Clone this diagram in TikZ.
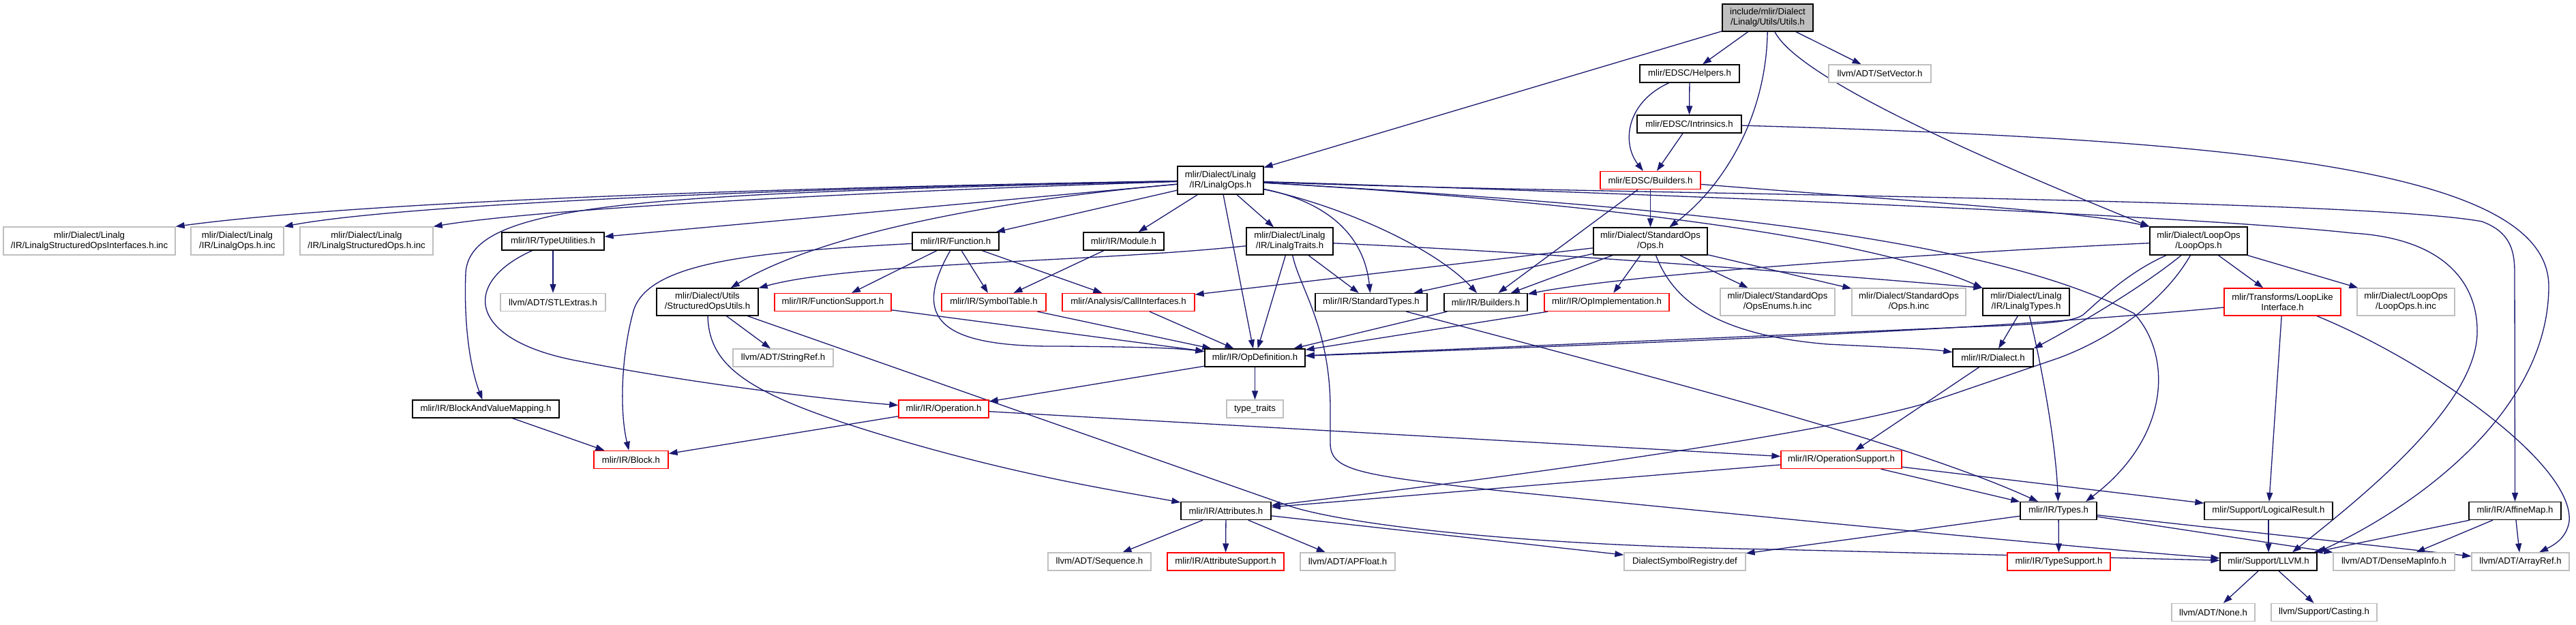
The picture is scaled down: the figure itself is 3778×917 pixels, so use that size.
\documentclass[tikz,border=0pt]{standalone}
\usepackage{fontspec}
\setmainfont{Liberation Sans}
\usetikzlibrary{arrows.meta}
\definecolor{edgecol}{HTML}{191970}
\definecolor{greyb}{HTML}{BFBFBF}
\definecolor{redb}{HTML}{FF0000}
\newcommand\nodefont{\fontsize{13.2}{15}\selectfont}
\pgfdeclarelayer{bg}
\pgfsetlayers{bg,main}
\tikzset{
  nbase/.style={rectangle, draw, line width=1.3pt, inner sep=0pt, align=center, font=\nodefont, text=black},
  blk/.style={nbase, draw=black, fill=white},
  gry/.style={nbase, draw=greyb, fill=white},
  rdb/.style={nbase, draw=redb, fill=white},
  rootb/.style={nbase, draw=black, fill=greyb},
  conn/.style={draw=edgecol, line width=1.3pt, -{Triangle[length=13pt,width=9pt]}}
}
\begin{document}
\begin{tikzpicture}[x=1pt,y=-1pt]
\useasboundingbox (0,0) rectangle (3778,917);
% nodes
\node[rootb, minimum width=133pt, minimum height=40pt] (Root) at (2592.5,26) {include/mlir/Dialect\\/Linalg/Utils/Utils.h};
\node[blk, minimum width=146pt, minimum height=26pt] (Helpers) at (2478,108) {mlir/EDSC/Helpers.h};
\node[gry, minimum width=150pt, minimum height=26pt] (SetVector) at (2757,108) {llvm/ADT/SetVector.h};
\node[blk, minimum width=153pt, minimum height=26pt] (Intrinsics) at (2477.5,182) {mlir/EDSC/Intrinsics.h};
\node[rdb, minimum width=147pt, minimum height=26pt] (Builders) at (2420.5,264.5) {mlir/EDSC/Builders.h};
\node[blk, minimum width=126pt, minimum height=41pt] (LinalgOps) at (1790,264.5) {mlir/Dialect/Linalg\\/IR/LinalgOps.h};
\node[gry, minimum width=252pt, minimum height=41pt] (LSOI) at (131,353.5) {mlir/Dialect/Linalg\\/IR/LinalgStructuredOpsInterfaces.h.inc};
\node[gry, minimum width=136pt, minimum height=41pt] (LOinc) at (348,353.5) {mlir/Dialect/Linalg\\/IR/LinalgOps.h.inc};
\node[gry, minimum width=195pt, minimum height=41pt] (LSOinc) at (537.5,353.5) {mlir/Dialect/Linalg\\/IR/LinalgStructuredOps.h.inc};
\node[blk, minimum width=150pt, minimum height=26pt] (TypeUtil) at (811,354) {mlir/IR/TypeUtilities.h};
\node[blk, minimum width=127pt, minimum height=26pt] (Function) at (1401.5,354) {mlir/IR/Function.h};
\node[blk, minimum width=118pt, minimum height=26pt] (Module) at (1648,354) {mlir/IR/Module.h};
\node[blk, minimum width=127pt, minimum height=40pt] (LinalgTraits) at (1891.5,354) {mlir/Dialect/Linalg\\/IR/LinalgTraits.h};
\node[blk, minimum width=167pt, minimum height=40pt] (StdOps) at (2420.5,354) {mlir/Dialect/StandardOps\\/Ops.h};
\node[blk, minimum width=143pt, minimum height=41pt] (LoopOps) at (3224.5,353.5) {mlir/Dialect/LoopOps\\/LoopOps.h};
\node[gry, minimum width=154pt, minimum height=26pt] (STLExtras) at (811,443.5) {llvm/ADT/STLExtras.h};
\node[blk, minimum width=149pt, minimum height=40pt] (SOU) at (1037.5,443) {mlir/Dialect/Utils\\/StructuredOpsUtils.h};
\node[rdb, minimum width=171pt, minimum height=26pt] (FuncSupport) at (1221.5,443.5) {mlir/IR/FunctionSupport.h};
\node[rdb, minimum width=153pt, minimum height=26pt] (SymbolTable) at (1457.5,443.5) {mlir/IR/SymbolTable.h};
\node[rdb, minimum width=194pt, minimum height=26pt] (CallIf) at (1655,443.5) {mlir/Analysis/CallInterfaces.h};
\node[blk, minimum width=164pt, minimum height=26pt] (StdTypes) at (2011,443.5) {mlir/IR/StandardTypes.h};
\node[blk, minimum width=122pt, minimum height=26pt] (IRBuilders) at (2179,443.5) {mlir/IR/Builders.h};
\node[rdb, minimum width=183pt, minimum height=26pt] (OpImpl) at (2356.5,443.5) {mlir/IR/OpImplementation.h};
\node[gry, minimum width=168pt, minimum height=40pt] (OpsEnums) at (2607,443) {mlir/Dialect/StandardOps\\/OpsEnums.h.inc};
\node[gry, minimum width=167pt, minimum height=40pt] (StdOpsinc) at (2799.5,443) {mlir/Dialect/StandardOps\\/Ops.h.inc};
\node[blk, minimum width=127pt, minimum height=40pt] (LinalgTypes) at (2971.5,443) {mlir/Dialect/Linalg\\/IR/LinalgTypes.h};
\node[rdb, minimum width=171pt, minimum height=40pt] (LoopLike) at (3347.5,443) {mlir/Transforms/LoopLike\\Interface.h};
\node[gry, minimum width=143pt, minimum height=40pt] (LoopOpsinc) at (3528.5,443) {mlir/Dialect/LoopOps\\/LoopOps.h.inc};
\node[gry, minimum width=147pt, minimum height=26pt] (StringRef) at (1148.5,525) {llvm/ADT/StringRef.h};
\node[blk, minimum width=147pt, minimum height=26pt] (OpDef) at (1840.5,525) {mlir/IR/OpDefinition.h};
\node[blk, minimum width=118pt, minimum height=26pt] (Dialect) at (2923,525) {mlir/IR/Dialect.h};
\node[blk, minimum width=215pt, minimum height=26pt] (BAVM) at (712.5,600) {mlir/IR/BlockAndValueMapping.h};
\node[rdb, minimum width=132pt, minimum height=26pt] (Operation) at (1384,600) {mlir/IR/Operation.h};
\node[gry, minimum width=83pt, minimum height=26pt] (typetraits) at (1840.5,600) {type\_traits};
\node[rdb, minimum width=109pt, minimum height=26pt] (Block) at (925.5,674.5) {mlir/IR/Block.h};
\node[rdb, minimum width=177pt, minimum height=26pt] (OpSupport) at (2700.5,674.5) {mlir/IR/OperationSupport.h};
\node[blk, minimum width=132pt, minimum height=26pt] (Attributes) at (1798,749.5) {mlir/IR/Attributes.h};
\node[blk, minimum width=112pt, minimum height=26pt] (Types) at (3019,749.5) {mlir/IR/Types.h};
\node[blk, minimum width=188pt, minimum height=26pt] (LogicalResult) at (3327,749.5) {mlir/Support/LogicalResult.h};
\node[blk, minimum width=135pt, minimum height=26pt] (AffineMap) at (3688.5,749.5) {mlir/IR/AffineMap.h};
\node[gry, minimum width=151pt, minimum height=26pt] (Sequence) at (1612.5,824) {llvm/ADT/Sequence.h};
\node[rdb, minimum width=171pt, minimum height=26pt] (AttrSupport) at (1797.5,824) {mlir/IR/AttributeSupport.h};
\node[gry, minimum width=139pt, minimum height=26pt] (APFloat) at (1976.5,824) {llvm/ADT/APFloat.h};
\node[gry, minimum width=178pt, minimum height=26pt] (DSR) at (2471,824) {DialectSymbolRegistry.def};
\node[rdb, minimum width=151pt, minimum height=26pt] (TypeSupport) at (3019.5,824) {mlir/IR/TypeSupport.h};
\node[blk, minimum width=142pt, minimum height=26pt] (LLVM) at (3327,824) {mlir/Support/LLVM.h};
\node[gry, minimum width=178pt, minimum height=26pt] (DenseMapInfo) at (3511,824) {llvm/ADT/DenseMapInfo.h};
\node[gry, minimum width=143pt, minimum height=26pt] (ArrayRef) at (3696.5,824) {llvm/ADT/ArrayRef.h};
\node[gry, minimum width=122pt, minimum height=26pt] (None) at (3246,898.5) {llvm/ADT/None.h};
\node[gry, minimum width=155pt, minimum height=26pt] (Casting) at (3408.5,898.5) {llvm/Support/Casting.h};

\begin{pgfonlayer}{bg}
\fill[white] (0,0) rectangle (3778,917);
% root
\draw[conn] (Root) -- (LinalgOps);
\draw[conn] (Root) -- (Helpers);
\draw[conn] (Root) .. controls (2590,180) and (2520,280) .. (StdOps);
\draw[conn] (Root) -- (SetVector);
\draw[conn] (Root) .. controls (2640,120) and (2950,250) .. (LoopOps.north west);
% helpers, intrinsics
\draw[conn] (Helpers) -- (Intrinsics);
\draw[conn] (Helpers) .. controls (2385,150) and (2378,210) .. (Builders);
\draw[conn] (Intrinsics) -- (Builders);
\draw[conn] (Intrinsics) .. controls (3300,205) and (3738,250) .. (3738,420) .. controls (3738,600) and (3550,740) .. (LLVM.north east);
% EDSC builders
\draw[conn] (Builders) -- (StdOps);
\draw[conn] (Builders) -- (IRBuilders);
\draw[conn] (Builders) .. controls (2800,295) and (3050,310) .. (LoopOps.north west);
% LinalgOps
\draw[conn] (LinalgOps) .. controls (1000,278) and (500,300) .. (LSOI.north east);
\draw[conn] (LinalgOps) .. controls (1200,275) and (600,298) .. (LOinc.north east);
\draw[conn] (LinalgOps) .. controls (1300,280) and (800,305) .. (LSOinc.north east);
\draw[conn] (LinalgOps) -- (TypeUtil);
\draw[conn] (LinalgOps) .. controls (950,285) and (690,295) .. (683,400) .. controls (680,480) and (690,540) .. (BAVM);
\draw[conn] (LinalgOps) .. controls (1450,295) and (1200,345) .. (SOU);
\draw[conn] (LinalgOps) -- (Function);
\draw[conn] (LinalgOps) -- (Module);
\draw[conn] (LinalgOps) -- (LinalgTraits);
\draw[conn] (LinalgOps) -- (OpDef);
\draw[conn] (LinalgOps) .. controls (1940,295) and (2000,340) .. (StdTypes);
\draw[conn] (LinalgOps) .. controls (1960,300) and (2100,360) .. (IRBuilders);
\draw[conn] (LinalgOps) .. controls (2400,300) and (2900,340) .. (3130,460) .. controls (3185,520) and (3185,640) .. ([xshift=40pt]Types.north);
\draw[conn] (LinalgOps) .. controls (2150,285) and (2700,330) .. (LinalgTypes.north west);
\draw[conn] (LinalgOps) .. controls (2600,290) and (3250,320) .. (3450,342) .. controls (3590,350) and (3635,420) .. (3633,490) .. controls (3630,600) and (3450,740) .. ([xshift=35pt]LLVM.north);
\draw[conn] (LinalgOps) .. controls (2300,285) and (3450,290) .. (3640,325) .. controls (3680,340) and (3688,365) .. (3688,400) -- (AffineMap);
% TypeUtilities, BAVM
\draw[conn] (TypeUtil) -- (STLExtras);
\draw[conn] (TypeUtil) .. controls (675,415) and (685,500) .. (850,530) .. controls (1000,560) and (1200,585) .. (Operation);
\draw[conn] (BAVM) -- (Block);
% Function, Module
\draw[conn] (Function) -- (FuncSupport);
\draw[conn] (Function) -- (SymbolTable);
\draw[conn] (Function) -- (CallIf);
\draw[conn] (Function) .. controls (1100,370) and (945,385) .. (928,460) .. controls (912,520) and (908,600) .. (Block);
\draw[conn] (Function) .. controls (1335,470) and (1380,510) .. (1560,508) .. controls (1660,509) and (1720,510) .. (OpDef);
\draw[conn] (Module) -- (SymbolTable);
% LinalgTraits
\draw[conn] (LinalgTraits) .. controls (1600,385) and (1250,385) .. (SOU);
\draw[conn] (LinalgTraits) -- (StdTypes);
\draw[conn] (LinalgTraits) -- (OpDef);
\draw[conn] (LinalgTraits) .. controls (2300,372) and (2700,405) .. (LinalgTypes.north west);
\draw[conn] (LinalgTraits) .. controls (1905,420) and (1951,480) .. (1951,600) -- (1951,650) .. controls (1951,690) and (1990,697) .. (2200,720) .. controls (2700,770) and (3100,808) .. (LLVM);
% StructuredOpsUtils
\draw[conn] (SOU) -- (StringRef);
\draw[conn] (SOU) .. controls (1040,540) and (1100,580) .. (1300,640) .. controls (1500,700) and (1650,722) .. (Attributes);
\draw[conn] (SOU) -- (1890,742) .. controls (1960,766) and (2200,800) .. (2600,806) -- (LLVM);
% red ones to OpDef
\draw[conn] (FuncSupport) -- (OpDef);
\draw[conn] (SymbolTable) -- (OpDef);
\draw[conn] (CallIf) -- (OpDef);
% StandardOps
\draw[conn] (StdOps) -- (StdTypes);
\draw[conn] (StdOps) -- (IRBuilders);
\draw[conn] (StdOps) -- (OpImpl);
\draw[conn] (StdOps) -- (OpsEnums);
\draw[conn] (StdOps) -- (StdOpsinc);
\draw[conn] (StdOps) .. controls (2450,430) and (2500,490) .. (2680,505) .. controls (2780,510) and (2830,512) .. (Dialect);
\draw[conn] (StdOps) -- (CallIf);
% StandardTypes, Builders, OpImplementation
\draw[conn] (StdTypes) .. controls (2450,560) and (2800,650) .. (Types);
\draw[conn] (IRBuilders) -- (OpDef);
\draw[conn] (OpImpl) -- (OpDef);
% LoopOps
\draw[conn] (LoopOps) .. controls (2900,368) and (2400,400) .. (IRBuilders);
\draw[conn] (LoopOps) .. controls (3120,400) and (3080,440) .. (3055,462) .. controls (3040,472) and (3000,476) .. (2880,480) -- (OpDef);
\draw[conn] (LoopOps) .. controls (3150,415) and (3060,470) .. (Dialect.north east);
\draw[conn] (LoopOps) .. controls (3175,440) and (3100,495) .. (3020,525) -- (2830,590) .. controls (2700,630) and (2300,690) .. (Attributes);
\draw[conn] (LoopOps) -- (LoopLike);
\draw[conn] (LoopOps) -- (LoopOpsinc);
% LinalgTypes
\draw[conn] (LinalgTypes) -- (Dialect);
\draw[conn] (LinalgTypes) .. controls (2995,540) and (3015,650) .. (Types);
% LoopLike
\draw[conn] (LoopLike) .. controls (2900,485) and (2500,500) .. (OpDef);
\draw[conn] (LoopLike) -- (LogicalResult);
\draw[conn] (LoopLike) .. controls (3560,530) and (3775,680) .. (3768,765) .. controls (3764,790) and (3745,800) .. (ArrayRef);
% OpDefinition, Operation, Dialect
\draw[conn] (OpDef) -- (Operation);
\draw[conn] (OpDef) -- (typetraits);
\draw[conn] (Operation) -- (Block);
\draw[conn] (Operation) -- (OpSupport);
\draw[conn] (Dialect) -- (OpSupport);
% OperationSupport
\draw[conn] (OpSupport) -- (Attributes);
\draw[conn] (OpSupport) -- (Types);
\draw[conn] (OpSupport) -- (LogicalResult);
% Attributes
\draw[conn] (Attributes) -- (Sequence);
\draw[conn] (Attributes) -- (AttrSupport);
\draw[conn] (Attributes) -- (APFloat);
\draw[conn] (Attributes) -- (DSR);
% Types
\draw[conn] (Types) -- (TypeSupport);
\draw[conn] (Types) -- (DSR);
\draw[conn] (Types) -- (DenseMapInfo);
\draw[conn] (Types) -- (ArrayRef);
% bottom
\draw[conn] (LogicalResult) -- (LLVM);
\draw[conn] (AffineMap) -- (LLVM);
\draw[conn] (AffineMap) -- (DenseMapInfo);
\draw[conn] (AffineMap) -- (ArrayRef);
\draw[conn] (LLVM) -- (None);
\draw[conn] (LLVM) -- (Casting);
\end{pgfonlayer}
\end{tikzpicture}
\end{document}
